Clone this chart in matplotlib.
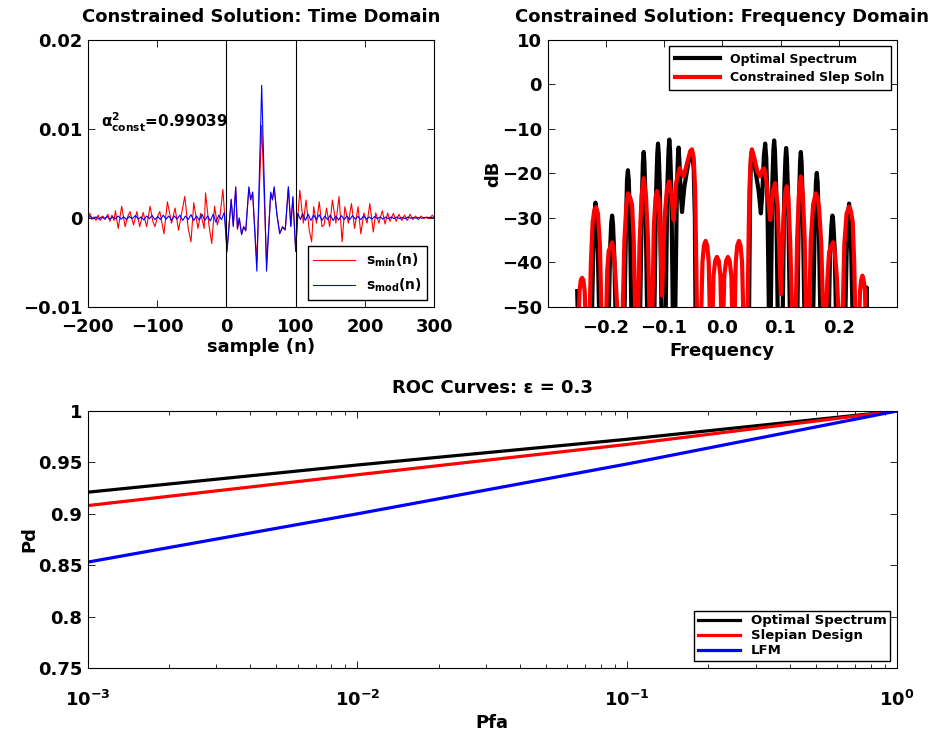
import numpy as np
import matplotlib
matplotlib.use('Agg')
import matplotlib.pyplot as plt

plt.rcParams['font.family'] = ['DejaVu Sans']
plt.rcParams['font.weight'] = 'bold'
plt.rcParams['axes.titleweight'] = 'bold'
plt.rcParams['axes.labelweight'] = 'bold'
plt.rcParams['mathtext.fontset'] = 'dejavusans'
plt.rcParams['mathtext.default'] = 'bf'
plt.rcParams['xtick.direction'] = 'in'
plt.rcParams['ytick.direction'] = 'in'
plt.rcParams['xtick.top'] = True
plt.rcParams['ytick.right'] = True

# ---- time domain (values in units of 1e-3) ----
smin_pts = [(-200, -0.3), (-197, 0.5), (-194, -0.2), (-191, 0.1), (-188, -0.3), (-185, 0.3),
            (-182, -0.3), (-178, 0.2), (-175, -0.2), (-171, 0.4), (-168, -0.4), (-165, 0.3),
            (-162, -0.3), (-160, 0.8), (-156, -1.2), (-151, 1.3), (-146, -1.0), (-142, 0.2),
            (-139, 0.7), (-134, -0.8), (-129, 0.7), (-125, -1.0), (-120, 0.6), (-115, -1.0),
            (-110, 1.3), (-106, -0.4), (-103, -1.0), (-99, 0.2), (-96, 0.7), (-90, -1.8),
            (-85, 1.8), (-79, -0.6), (-74, 1.1), (-69, -1.4), (-65, 0.3), (-60, 2.4),
            (-55, -1.2), (-51, -2.7), (-47, 1.7), (-41, -1.2), (-37, 0.5), (-32, -1.2),
            (-30, 2.8), (-25, -0.9), (-21, -2.9), (-17, 1.3), (-13, -0.8), (-9, 0.3), (-5, 3.2),
            (1, -3.5), (7, 2.0), (10, -0.8), (13.5, 3.3), (16, -1.3), (19, -0.2), (22, -1.8),
            (25, -1.0), (28, -1.5), (32.5, 3.3), (35, 2.2), (38, 2.6), (44, -4.9), (51, 10.4),
            (58, -5.1), (64, 2.7), (66.5, 2.1), (69, 3.3), (73, 0.4), (77, -1.7), (81, -1.1),
            (85, -1.4), (89.5, 3.4), (93, -0.9), (96, 2.2), (100, -3.5),
            (103, 0.0), (106, 3.1), (111, -0.6), (115, 2.0), (119.6, -1.4), (123, -2.7),
            (126, 1.25), (130, -0.6), (134, 1.8), (138, -1.0), (141, -0.8), (144.5, 1.1),
            (149, -1.0), (153, 2.0), (158, -0.6), (162.6, 2.4), (167, -2.7), (171, 1.25),
            (176, -0.6), (180.5, 1.6), (185, -1.2), (190, 1.25), (194, -1.8), (198.5, 0.55),
            (203, -0.6), (207, 1.6), (212, -1.6), (215.5, 0.55), (220, -0.6), (225, 0.8),
            (229, -0.7), (232.7, 0.55), (236, -0.4), (241, 0.5), (245, -0.4), (249, 0.4),
            (253, -0.3), (257, 0.3), (261, -0.3), (265, 0.4), (269, -0.2), (273, 0.2),
            (277, -0.2), (281, 0.2), (285, -0.1), (289, 0.1), (293, -0.1), (297, 0.3), (300, 0.0)]

smod_pts = [(-200, 0.0), (-196, 0.15), (-192, -0.1), (-188, 0.1), (-184, -0.15), (-180, 0.1),
            (-176, -0.1), (-172, 0.15), (-168, -0.15), (-164, 0.1), (-160, -0.1), (-156, 0.2),
            (-152, -0.15), (-148, 0.1), (-144, -0.2), (-140, 0.15), (-136, -0.1), (-131, 0.25),
            (-127, -0.15), (-123, 0.1), (-119, -0.25), (-115, 0.2), (-111, -0.1), (-107, 0.25),
            (-103, -0.2), (-99, 0.15), (-95, -0.2), (-91, 0.3), (-87, -0.15), (-83, 0.2),
            (-79, -0.3), (-75, 0.2), (-71, -0.15), (-67, 0.3), (-63, -0.3), (-59, 0.2),
            (-55, -0.2), (-51, 0.35), (-47, -0.3), (-43, 0.2), (-39, -0.25), (-35, 0.4),
            (-31, -0.3), (-27, 0.2), (-23, -0.35), (-19, 0.4), (-15, -0.5), (-11, 0.3),
            (-7, -0.2), (-3, 0.6),
            (1, -3.8), (7, 2.1), (10, -1.0), (13.5, 3.5), (16, -1.2), (18.5, 0.0), (22, -1.9),
            (25, -1.0), (28, -1.4), (32.5, 3.5), (35, 2.0), (38, 2.9), (44, -6.0), (51, 14.9),
            (58, -6.0), (64, 2.9), (66.5, 2.0), (69, 3.5), (73, 0.3), (77, -1.8), (81, -1.0),
            (85, -1.3), (89.5, 3.5), (93, -1.0), (96, 2.4), (100, -3.8),
            (103, 0.5), (107, -0.2), (110, 0.5), (114, -0.3), (118, 0.4), (122, -0.3),
            (126, 0.3), (130, -0.2), (134, 0.35), (138, -0.3), (142, 0.2), (146, -0.2),
            (150, 0.3), (154, -0.3), (158, 0.2), (162, -0.25), (166, 0.25), (170, -0.2),
            (174, 0.2), (178, -0.2), (182, 0.25), (186, -0.15), (190, 0.15), (194, -0.2),
            (198, 0.2), (202, -0.15), (206, 0.1), (210, -0.15), (214, 0.15), (218, -0.1),
            (222, 0.1), (226, -0.15), (230, 0.1), (234, -0.1), (238, 0.1), (242, -0.1),
            (246, 0.1), (250, -0.1), (254, 0.05), (258, -0.1), (262, 0.1), (266, -0.05),
            (270, 0.05), (274, -0.05), (278, 0.05), (282, -0.05), (286, 0.05), (290, 0.0),
            (294, 0.05), (298, 0.0), (300, 0.0)]

window_edges = [0, 100]
alpha_const = 0.99039

# ---- frequency domain (freq, dB) ----
opt_spec = [(-0.2490, -46.5), (-0.2465, -60),
            (-0.2250, -60), (-0.2215, -38), (-0.2195, -29.5), (-0.2177, -26.6), (-0.2160, -29.5), (-0.2135, -38), (-0.2100, -60),
            (-0.1960, -60), (-0.1925, -37), (-0.1905, -31), (-0.1890, -29.5), (-0.1875, -31.5), (-0.1850, -40), (-0.1820, -60),
            (-0.1690, -60), (-0.1650, -30), (-0.1635, -21.5), (-0.1620, -19.3), (-0.1605, -21.5), (-0.1585, -30), (-0.1550, -60),
            (-0.1420, -60), (-0.1380, -26), (-0.1362, -17.5), (-0.1349, -15.2), (-0.1336, -17.5), (-0.1318, -26), (-0.1280, -60),
            (-0.1175, -60), (-0.1135, -24), (-0.1115, -15.5), (-0.1103, -13.3), (-0.1090, -15.5), (-0.1070, -24), (-0.1035, -60),
            (-0.0980, -60), (-0.0943, -23), (-0.0922, -14.8), (-0.0909, -12.4), (-0.0896, -14.8), (-0.0875, -23), (-0.0840, -60),
            (-0.0815, -60), (-0.0780, -25), (-0.0762, -16.5), (-0.0749, -14.2), (-0.0736, -17), (-0.0715, -24),
            (-0.0691, -28.7), (-0.0650, -23), (-0.0606, -19.5), (-0.0560, -16), (-0.0520, -15.2), (-0.0490, -19),
            (-0.0470, -30), (-0.0455, -60),
            (0.0455, -60), (0.0475, -28), (0.0490, -17.5), (0.0509, -15), (0.0540, -17), (0.0575, -19.8),
            (0.0625, -24), (0.0663, -29), (0.0690, -24), (0.0715, -16), (0.0737, -13.3), (0.0755, -16.5),
            (0.0775, -26), (0.0810, -60),
            (0.0825, -60), (0.0860, -22), (0.0878, -14.8), (0.0891, -12.6), (0.0904, -14.8), (0.0925, -23), (0.0960, -60),
            (0.1030, -60), (0.1065, -24), (0.1085, -16.5), (0.1097, -14.3), (0.1110, -16.5), (0.1130, -25), (0.1170, -60),
            (0.1280, -60), (0.1318, -26), (0.1336, -17.5), (0.1349, -15.2), (0.1362, -17.5), (0.1380, -26), (0.1420, -60),
            (0.1550, -60), (0.1590, -30), (0.1608, -22), (0.1623, -19.9), (0.1638, -22), (0.1655, -30), (0.1695, -60),
            (0.1820, -60), (0.1850, -38), (0.1875, -31.5), (0.1891, -29.5), (0.1906, -31), (0.1930, -37), (0.1965, -60),
            (0.2100, -60), (0.2135, -38), (0.2160, -29.5), (0.2177, -26.8), (0.2195, -29.5), (0.2215, -38), (0.2250, -60),
            (0.2455, -60), (0.2470, -50), (0.2480, -45.7), (0.2490, -60)]

slep_spec = [(-0.2486, -60), (-0.2450, -46.5), (-0.2428, -44), (-0.2406, -43.5), (-0.2384, -44), (-0.2362, -46.5), (-0.2326, -60),
             (-0.2290, -60), (-0.2255, -40), (-0.2225, -31), (-0.2195, -28.2), (-0.2166, -27.6), (-0.2135, -29), (-0.2100, -36), (-0.2060, -60),
             (-0.2006, -60), (-0.1975, -42), (-0.1949, -37.4), (-0.1920, -36.5), (-0.1890, -35.5), (-0.1860, -38), (-0.1825, -45), (-0.1765, -60),
             (-0.1725, -60), (-0.1680, -35), (-0.1645, -27), (-0.1617, -24.5), (-0.1580, -25.5), (-0.1549, -27), (-0.1520, -35), (-0.1480, -60),
             (-0.1457, -60), (-0.1420, -36), (-0.1385, -25), (-0.1349, -21.1), (-0.1310, -25), (-0.1275, -35), (-0.1235, -60),
             (-0.1210, -60), (-0.1175, -32), (-0.1145, -25.5), (-0.1120, -24), (-0.1095, -25.5), (-0.1065, -33),
             (-0.1034, -47.5), (-0.0990, -30), (-0.0950, -23.5), (-0.0909, -21.8), (-0.0870, -25), (-0.0834, -30.5),
             (-0.0790, -22), (-0.0731, -18.8), (-0.0690, -20.2), (-0.0663, -20.7), (-0.0600, -17.5), (-0.0550, -15),
             (-0.0520, -14.6), (-0.0490, -16.5), (-0.0465, -24), (-0.0423, -60),
             (-0.0377, -60), (-0.0340, -40), (-0.0315, -36.3), (-0.0286, -35.2), (-0.0257, -36.3), (-0.0232, -40), (-0.0200, -60),
             (-0.0180, -60), (-0.0150, -43), (-0.0120, -39.6), (-0.0091, -38.8), (-0.0062, -39.6), (-0.0032, -43), (-0.0005, -60),
             (0.0005, -60), (0.0035, -43), (0.0068, -39.6), (0.0097, -38.8), (0.0126, -39.6), (0.0156, -43), (0.0186, -60),
             (0.0200, -60), (0.0232, -40), (0.0257, -36.3), (0.0286, -35.2), (0.0315, -36.3), (0.0340, -40), (0.0377, -60),
             (0.0423, -60), (0.0465, -24), (0.0490, -16.5), (0.0509, -14.6), (0.0550, -16.5), (0.0600, -19.5),
             (0.0651, -20.7), (0.0690, -19.2), (0.0720, -18.9), (0.0760, -22), (0.0823, -30.5), (0.0870, -24),
             (0.0909, -22.2), (0.0950, -27), (0.1006, -47.2), (0.1050, -30), (0.1085, -24), (0.1109, -22.9),
             (0.1135, -25.5), (0.1165, -35), (0.1220, -60),
             (0.1250, -60), (0.1285, -35), (0.1315, -25), (0.1349, -20.7), (0.1385, -25), (0.1415, -35), (0.1452, -60),
             (0.1480, -60), (0.1520, -35), (0.1560, -27), (0.1606, -24.5), (0.1635, -25.5), (0.1663, -27.9), (0.1700, -36), (0.1749, -60),
             (0.1766, -60), (0.1800, -45), (0.1834, -37.7), (0.1865, -36.5), (0.1903, -35.5), (0.1935, -38), (0.1965, -43), (0.2029, -60),
             (0.2052, -60), (0.2095, -36), (0.2135, -29), (0.2177, -27.5), (0.2210, -28.5), (0.2240, -31), (0.2265, -40), (0.2297, -60),
             (0.2337, -60), (0.2365, -46.5), (0.2385, -44), (0.2406, -43), (0.2428, -44), (0.2450, -46.5), (0.2474, -60)]

# ---- ROC ----
pfa = [1e-3, 1e-2, 1e-1, 1.0]
pd_opt = [0.921, 0.9475, 0.9725, 1.0]
pd_slep = [0.908, 0.938, 0.9675, 1.0]
pd_lfm = [0.853, 0.900, 0.9485, 1.0]
epsilon = 0.3

fig = plt.figure(figsize=(9.42, 7.4), dpi=100)
W, H = 942.0, 740.0
def place(l, t, r, b):
    return fig.add_axes([l / W, 1 - b / H, (r - l) / W, (b - t) / H])

fs = 13

# time domain
ax1 = place(87.7, 40, 434.3, 306.7)
n_min, v_min = zip(*smin_pts)
n_mod, v_mod = zip(*smod_pts)
ax1.plot(n_min, np.array(v_min) * 1e-3, color='red', lw=0.8, label=r'$\mathbf{s_{min}(n)}$')
ax1.plot(n_mod, np.array(v_mod) * 1e-3, color='blue', lw=0.8, label=r'$\mathbf{s_{mod}(n)}$')
for e in window_edges:
    ax1.axvline(e, color='black', lw=0.8)
ax1.set_xlim(-200, 300)
ax1.set_ylim(-0.01, 0.02)
ax1.set_xticks([-200, -100, 0, 100, 200, 300])
ax1.set_yticks([-0.01, 0, 0.01, 0.02])
ax1.set_yticklabels(['\u22120.01', '0', '0.01', '0.02'])
ax1.set_xlabel('sample (n)', fontsize=fs)
ax1.xaxis.set_label_coords(0.5, -0.118)
ax1.set_title('Constrained Solution: Time Domain', fontsize=fs, pad=13)
ax1.text(-181, 0.0107, r'$\mathbf{\alpha^2_{const}}$=%.5f' % alpha_const, fontsize=11,
         va='center', ha='left')
leg1 = ax1.legend(loc='lower right', fontsize=10, handlelength=3.0, fancybox=False,
                  edgecolor='black', framealpha=1, borderaxespad=0.5, labelspacing=0.55)
leg1.get_frame().set_linewidth(1.0)

# frequency domain
ax2 = place(547.5, 40, 897, 306.7)
f_opt, db_opt = zip(*opt_spec)
f_slep, db_slep = zip(*slep_spec)
ax2.plot(f_opt, db_opt, color='black', lw=3, label='Optimal Spectrum')
ax2.plot(f_slep, db_slep, color='red', lw=3, label='Constrained Slep Soln')
ax2.set_xlim(-0.3, 0.3)
ax2.set_ylim(-50, 10)
ax2.set_xticks([-0.2, -0.1, 0, 0.1, 0.2])
ax2.set_yticks([-50, -40, -30, -20, -10, 0, 10])
ax2.set_xlabel('Frequency', fontsize=fs)
ax2.xaxis.set_label_coords(0.5, -0.132)
ax2.set_ylabel('dB', fontsize=fs)
ax2.yaxis.set_label_coords(-0.13, 0.5)
ax2.set_title('Constrained Solution: Frequency Domain', fontsize=fs, pad=13)
leg2 = ax2.legend(loc='upper right', fontsize=9, handlelength=3.6, fancybox=False,
                  edgecolor='black', framealpha=1, borderaxespad=0.5, labelspacing=0.45,
                  borderpad=0.5)
leg2.get_frame().set_linewidth(1.0)

# ROC
ax3 = place(87.7, 411, 897, 668)
ax3.semilogx(pfa, pd_opt, color='black', lw=2.3, label='Optimal Spectrum')
ax3.semilogx(pfa, pd_slep, color='red', lw=2.3, label='Slepian Design')
ax3.semilogx(pfa, pd_lfm, color='blue', lw=2.3, label='LFM')
ax3.set_xlim(1e-3, 1)
ax3.set_ylim(0.75, 1)
ax3.set_yticks([0.75, 0.8, 0.85, 0.9, 0.95, 1])
ax3.set_yticklabels(['0.75', '0.8', '0.85', '0.9', '0.95', '1'])
ax3.set_xlabel('Pfa', fontsize=fs)
ax3.xaxis.set_label_coords(0.5, -0.179)
ax3.set_ylabel('Pd', fontsize=fs)
ax3.yaxis.set_label_coords(-0.0614, 0.5)
ax3.set_title('ROC Curves: \u03b5 = %.1f' % epsilon, fontsize=fs, pad=13)
leg3 = ax3.legend(loc='lower right', fontsize=9.5, handlelength=3.2, fancybox=False,
                  edgecolor='black', framealpha=1, borderaxespad=0.5, labelspacing=0.15,
                  borderpad=0.3)
leg3.get_frame().set_linewidth(1.0)

for ax in (ax1, ax2, ax3):
    ax.tick_params(labelsize=fs, length=5, width=0.6, pad=4)
    ax.tick_params(which='minor', length=3, width=0.6)
    for s in ax.spines.values():
        s.set_linewidth(0.8)
ax1.tick_params(axis='x', pad=8)
ax2.tick_params(axis='x', pad=9)
ax3.tick_params(axis='x', pad=16)

plt.savefig('out.png', dpi=100)
